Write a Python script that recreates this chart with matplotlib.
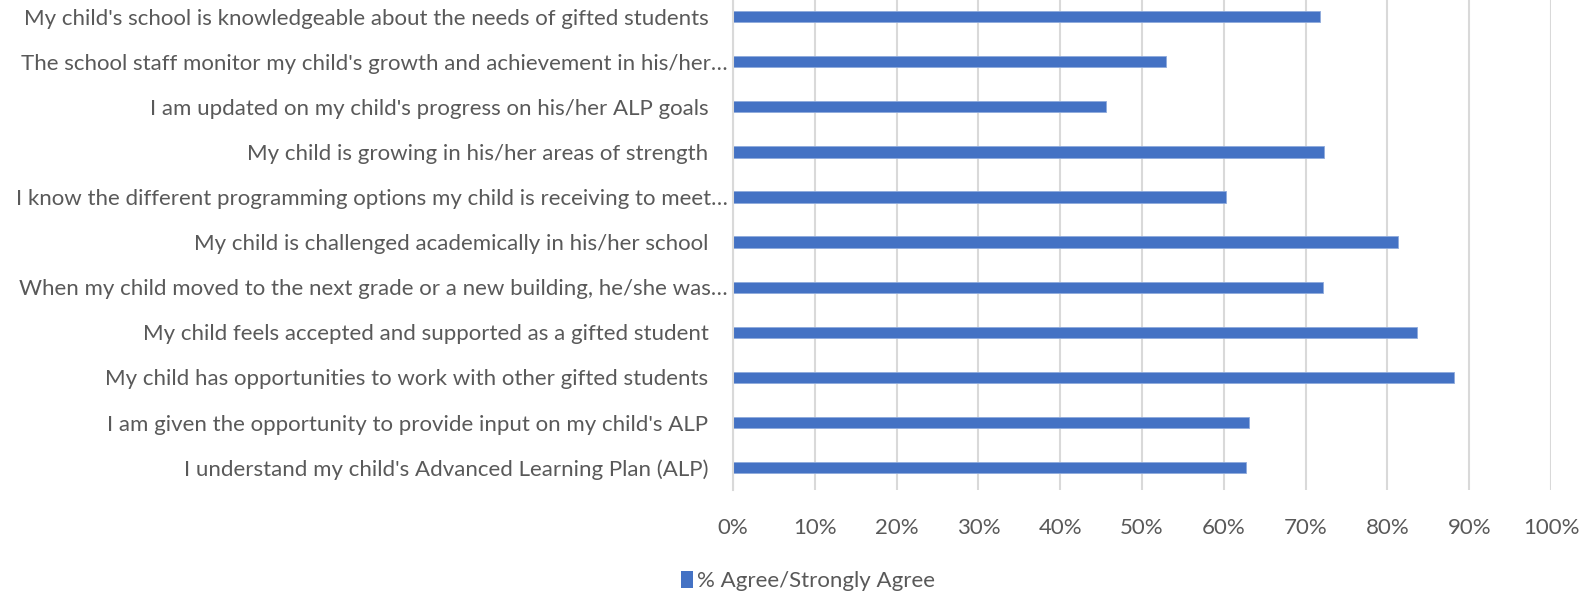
import matplotlib
matplotlib.use("Agg")
import matplotlib.pyplot as plt
import matplotlib.transforms as mtransforms
from matplotlib.patches import Patch

categories = [
    "My child's school is knowledgeable about the needs of gifted students",
    "The school staff monitor my child's growth and achievement in his/her…",
    "I am updated on my child's progress on his/her ALP goals",
    "My child is growing in his/her areas of strength",
    "I know the different programming options my child is receiving to meet…",
    "My child is challenged academically in his/her school",
    "When my child moved to the next grade or a new building, he/she was…",
    "My child feels accepted and supported as a gifted student",
    "My child has opportunities to work with other gifted students",
    "I am given the opportunity to provide input on my child's ALP",
    "I understand my child's Advanced Learning Plan (ALP)",
]
values = [0.718, 0.529, 0.456, 0.722, 0.603, 0.813, 0.721, 0.836, 0.881, 0.631, 0.627]
xticks = [0, 0.1, 0.2, 0.3, 0.4, 0.5, 0.6, 0.7, 0.8, 0.9, 1.0]
xticklabels = ["0%", "10%", "20%", "30%", "40%", "50%", "60%", "70%", "80%", "90%", "100%"]
series_name = "% Agree/Strongly Agree"

plt.rcParams['font.family'] = ['Lato', 'DejaVu Sans']
FS = 16

W, H = 1583, 594
fig = plt.figure(figsize=(W / 100, H / 100), dpi=100)
left, right = 733 / W, 1551 / W
bottom = (H - 490.3) / H
ax = fig.add_axes([left, bottom, right - left, 1.0 - bottom])

n = len(categories)
ypos = list(range(n - 1, -1, -1))
bar_color = "#4472C4"
ax.barh(ypos, values, height=0.25, color=bar_color, edgecolor="#8faadc", linewidth=0.6, zorder=3)

ax.set_xlim(0, 1.0)
ax.set_ylim(-0.5, (n - 1) + 16.5 / 45.12)
ax.set_xticks(xticks)
ax.set_xticklabels(xticklabels)
ax.set_yticks(ypos)
ax.set_yticklabels(categories)

grid_c = "#d9d9d9"
ax.xaxis.grid(True, color=grid_c, linewidth=1.5, zorder=0)
ax.set_axisbelow(True)
for s in ["top", "right", "bottom"]:
    ax.spines[s].set_visible(False)
ax.spines["left"].set_color(grid_c)
ax.spines["left"].set_linewidth(1.5)
ax.spines["left"].set_zorder(4)

ax.tick_params(axis="both", length=0, labelsize=FS, labelcolor="#595959")
ax.tick_params(axis="x", pad=20)
ax.tick_params(axis="y", pad=4)

for lab in ax.get_yticklabels():
    if not lab.get_text().endswith("…"):
        lab.set_transform(lab.get_transform() + mtransforms.ScaledTranslation(-19 / 100, 0, fig.dpi_scale_trans))

handles = [Patch(facecolor=bar_color, edgecolor="none")]
fig.legend(handles, [series_name], loc="center", bbox_to_anchor=(808 / W, 13 / H),
           frameon=False, fontsize=FS, labelcolor="#595959",
           handlelength=0.55, handleheight=0.8, handletextpad=0.2)

fig.savefig("out.png", dpi=100, facecolor="white")
